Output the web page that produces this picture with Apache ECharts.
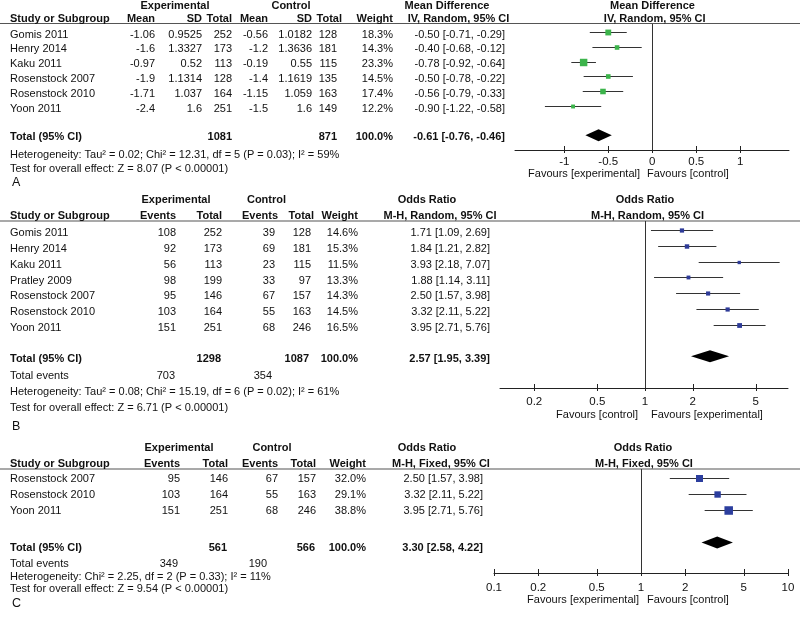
<!DOCTYPE html>
<html><head><meta charset="utf-8">
<script src="https://cdn.jsdelivr.net/npm/echarts@6/dist/echarts.min.js"></script>
<style>html,body{margin:0;padding:0;background:#fff}#c{width:800px;height:619px}</style>
</head><body><div id="c"></div>
<script>
// ---------- Panel A : Mean Difference ----------
const studiesA = ['Gomis 2011','Henry 2014','Kaku 2011','Rosenstock 2007','Rosenstock 2010','Yoon 2011'];
const expMeanA = [-1.06,-1.6,-0.97,-1.9,-1.71,-2.4];
const expSdA = [0.9525,1.3327,0.52,1.1314,1.037,1.6];
const expTotalA = [252,173,113,128,164,251];
const ctlMeanA = [-0.56,-1.2,-0.19,-1.4,-1.15,-1.5];
const ctlSdA = [1.0182,1.3636,0.55,1.1619,1.059,1.6];
const ctlTotalA = [128,181,115,135,163,149];
const weightA = [18.3,14.3,23.3,14.5,17.4,12.2];
const mdA = [-0.50,-0.40,-0.78,-0.50,-0.56,-0.90];
const lowA = [-0.71,-0.68,-0.92,-0.78,-0.79,-1.22];
const highA = [-0.29,-0.12,-0.64,-0.22,-0.33,-0.58];
const totalA = [-0.61,-0.76,-0.46];      // estimate, low, high
const sumA = [1081,871,100.0];           // exp total, ctl total, weight
const hetA = 'Heterogeneity: Tau² = 0.02; Chi² = 12.31, df = 5 (P = 0.03); I² = 59%';
const testA = 'Test for overall effect: Z = 8.07 (P < 0.00001)';
const ticksA = [-1,-0.5,0,0.5,1];

// ---------- Panel B : Odds Ratio (random) ----------
const studiesB = ['Gomis 2011','Henry 2014','Kaku 2011','Pratley 2009','Rosenstock 2007','Rosenstock 2010','Yoon 2011'];
const expEventsB = [108,92,56,98,95,103,151];
const expTotalB = [252,173,113,199,146,164,251];
const ctlEventsB = [39,69,23,33,67,55,68];
const ctlTotalB = [128,181,115,97,157,163,246];
const weightB = [14.6,15.3,11.5,13.3,14.3,14.5,16.5];
const orB = [1.71,1.84,3.93,1.88,2.50,3.32,3.95];
const lowB = [1.09,1.21,2.18,1.14,1.57,2.11,2.71];
const highB = [2.69,2.82,7.07,3.11,3.98,5.22,5.76];
const totalB = [2.57,1.95,3.39];
const sumB = [1298,1087,100.0];
const eventsB = [703,354];
const hetB = 'Heterogeneity: Tau² = 0.08; Chi² = 15.19, df = 6 (P = 0.02); I² = 61%';
const testB = 'Test for overall effect: Z = 6.71 (P < 0.00001)';
const ticksB = [0.2,0.5,1,2,5];

// ---------- Panel C : Odds Ratio (fixed) ----------
const studiesC = ['Rosenstock 2007','Rosenstock 2010','Yoon 2011'];
const expEventsC = [95,103,151];
const expTotalC = [146,164,251];
const ctlEventsC = [67,55,68];
const ctlTotalC = [157,163,246];
const weightC = [32.0,29.1,38.8];
const orC = [2.50,3.32,3.95];
const lowC = [1.57,2.11,2.71];
const highC = [3.98,5.22,5.76];
const totalC = [3.30,2.58,4.22];
const sumC = [561,566,100.0];
const eventsC = [349,190];
const hetC = 'Heterogeneity: Chi² = 2.25, df = 2 (P = 0.33); I² = 11%';
const testC = 'Test for overall effect: Z = 9.54 (P < 0.00001)';
const ticksC = [0.1,0.2,0.5,1,2,5,10];

// ---------- rendering ----------
const FONT = "'Liberation Sans', Arial, Helvetica, sans-serif";
const TXT = '#111';
const G = [];
function txt(x, y, s, align, bold, size) {
  G.push({type:'text', x:x, y:y, silent:true, z:10,
    style:{text:String(s), font:(bold?'bold ':'')+(size||11)+'px '+FONT, fill:TXT,
      align:align||'left', verticalAlign:'middle', textAlign:align||'left', textVerticalAlign:'middle'}});
}
function hline(y, x1, x2) {
  G.push({type:'line', silent:true, shape:{x1:x1, y1:y, x2:x2, y2:y}, style:{stroke:'#555', lineWidth:1.2}});
}
const f2 = v => v.toFixed(2);
const ci = (e,l,h) => f2(e)+' ['+f2(l)+', '+f2(h)+']';
const pct = v => v.toFixed(1)+'%';

// Panel A text
(function(){
  const L = {h1:5.5, h2:18.5, line:23.5, y0:34.7, step:14.76, total:137, het:155, test:169, lab:183, fav:174};
  const cols = [155,202,232,268,312,337,393], ciR = 505;
  const hcols = [155,202,232,268,312,342,393];
  txt(175, L.h1, 'Experimental', 'center', true);
  txt(291, L.h1, 'Control', 'center', true);
  txt(447, L.h1, 'Mean Difference', 'center', true);
  txt(652.5, L.h1, 'Mean Difference', 'center', true);
  txt(10, L.h2, 'Study or Subgroup', 'left', true);
  ['Mean','SD','Total','Mean','SD','Total','Weight'].forEach((h,i)=>txt(hcols[i], L.h2, h, 'right', true));
  txt(458.5, L.h2, 'IV, Random, 95% CI', 'center', true);
  txt(654.7, L.h2, 'IV, Random, 95% CI', 'center', true);
  hline(L.line, 0, 800);
  studiesA.forEach((s,i)=>{
    const y = L.y0 + i*L.step;
    txt(10, y, s);
    [expMeanA[i], expSdA[i], expTotalA[i], ctlMeanA[i], ctlSdA[i], ctlTotalA[i], pct(weightA[i])]
      .forEach((v,j)=>txt(cols[j], y, v, 'right'));
    txt(ciR, y, ci(mdA[i], lowA[i], highA[i]), 'right');
  });
  txt(10, L.total, 'Total (95% CI)', 'left', true);
  txt(cols[2], L.total, sumA[0], 'right', true);
  txt(cols[5], L.total, sumA[1], 'right', true);
  txt(cols[6], L.total, pct(sumA[2]), 'right', true);
  txt(ciR, L.total, ci(totalA[0], totalA[1], totalA[2]), 'right', true);
  txt(10, L.het, hetA);
  txt(10, L.test, testA);
  txt(12, L.lab, 'A', 'left', false, 12.5);
  txt(640, L.fav, 'Favours [experimental]', 'right');
  txt(647, L.fav, 'Favours [control]', 'left');
})();

// Panel B text
(function(){
  const L = {h1:200, h2:215.5, line:221, y0:233.3, step:15.78, total:359, ev:376, het:392, test:407.5, lab:427, fav:415};
  const cols = [176,222,275,311,358], ciR = 490;
  txt(176, L.h1, 'Experimental', 'center', true);
  txt(266.5, L.h1, 'Control', 'center', true);
  txt(427, L.h1, 'Odds Ratio', 'center', true);
  txt(645, L.h1, 'Odds Ratio', 'center', true);
  txt(10, L.h2, 'Study or Subgroup', 'left', true);
  ['Events','Total','Events','Total','Weight'].forEach((h,i)=>txt(cols[i]+(i==2||i==3?3:0), L.h2, h, 'right', true));
  txt(440, L.h2, 'M-H, Random, 95% CI', 'center', true);
  txt(647.5, L.h2, 'M-H, Random, 95% CI', 'center', true);
  hline(L.line, 0, 800);
  studiesB.forEach((s,i)=>{
    const y = L.y0 + i*L.step;
    txt(10, y, s);
    [expEventsB[i], expTotalB[i], ctlEventsB[i], ctlTotalB[i], pct(weightB[i])]
      .forEach((v,j)=>txt(cols[j], y, v, 'right'));
    txt(ciR, y, ci(orB[i], lowB[i], highB[i]), 'right');
  });
  txt(10, L.total, 'Total (95% CI)', 'left', true);
  txt(cols[1]-1, L.total, sumB[0], 'right', true);
  txt(cols[3]-2, L.total, sumB[1], 'right', true);
  txt(cols[4], L.total, pct(sumB[2]), 'right', true);
  txt(ciR, L.total, ci(totalB[0], totalB[1], totalB[2]), 'right', true);
  txt(10, L.ev, 'Total events');
  txt(cols[0]-1, L.ev, eventsB[0], 'right');
  txt(cols[2]-3, L.ev, eventsB[1], 'right');
  txt(10, L.het, hetB);
  txt(10, L.test, testB);
  txt(12, L.lab, 'B', 'left', false, 12.5);
  txt(638, L.fav, 'Favours [control]', 'right');
  txt(651, L.fav, 'Favours [experimental]', 'left');
})();

// Panel C text
(function(){
  const L = {h1:447.5, h2:463.5, line:469, y0:479, step:15.8, total:548, ev:564, het:576.5, test:589, lab:604, fav:600};
  const cols = [180,228,278,316,366], ciR = 483;
  txt(179, L.h1, 'Experimental', 'center', true);
  txt(272, L.h1, 'Control', 'center', true);
  txt(427, L.h1, 'Odds Ratio', 'center', true);
  txt(643, L.h1, 'Odds Ratio', 'center', true);
  txt(10, L.h2, 'Study or Subgroup', 'left', true);
  ['Events','Total','Events','Total','Weight'].forEach((h,i)=>txt(cols[i], L.h2, h, 'right', true));
  txt(441, L.h2, 'M-H, Fixed, 95% CI', 'center', true);
  txt(644, L.h2, 'M-H, Fixed, 95% CI', 'center', true);
  hline(L.line, 0, 800);
  studiesC.forEach((s,i)=>{
    const y = L.y0 + i*L.step;
    txt(10, y, s);
    [expEventsC[i], expTotalC[i], ctlEventsC[i], ctlTotalC[i], pct(weightC[i])]
      .forEach((v,j)=>txt(cols[j], y, v, 'right'));
    txt(ciR, y, ci(orC[i], lowC[i], highC[i]), 'right');
  });
  txt(10, L.total, 'Total (95% CI)', 'left', true);
  txt(cols[1]-1, L.total, sumC[0], 'right', true);
  txt(cols[3]-1, L.total, sumC[1], 'right', true);
  txt(cols[4], L.total, pct(sumC[2]), 'right', true);
  txt(ciR, L.total, ci(totalC[0], totalC[1], totalC[2]), 'right', true);
  txt(10, L.ev, 'Total events');
  txt(cols[0]-2, L.ev, eventsC[0], 'right');
  txt(cols[2]-11, L.ev, eventsC[1], 'right');
  txt(10, L.het, hetC);
  txt(10, L.test, testC);
  txt(12, L.lab, 'C', 'left', false, 12.5);
  txt(639, L.fav, 'Favours [experimental]', 'right');
  txt(647, L.fav, 'Favours [control]', 'left');
})();

// ---------- plot geometry ----------
const lg = v => Math.log10(v);
const panels = [
  {grid:{left:515, top:24, width:274, height:126}, y0:32.3, step:14.7, xmin:-1.56, xmax:1.554, ticks:ticksA, tf:v=>v, nullX:0,
   est:mdA, low:lowA, high:highA, w:weightA, tot:totalA, color:'#3cb44b', k:0.32, margin:6},
  {grid:{left:500, top:221, width:288, height:167}, y0:230, step:15.78, xmin:-0.915, xmax:0.902, ticks:ticksB, tf:lg, nullX:1,
   est:orB, low:lowB, high:highB, w:weightB, tot:totalB, color:'#2e3b98', k:0.29, margin:8},
  {grid:{left:494, top:469, width:294, height:104}, y0:478.4, step:16, xmin:-1, xmax:1, ticks:ticksC, tf:lg, nullX:1,
   est:orC, low:lowC, high:highC, w:weightC, tot:totalC, color:'#2c3e9e', k:0.22, margin:9}
];

const grids = [], xAxes = [], yAxes = [], series = [];
panels.forEach((p, pi) => {
  grids.push(Object.assign({containLabel:false}, p.grid));
  const ymin = (p.grid.top - p.y0)/p.step, ymax = (p.grid.top + p.grid.height - p.y0)/p.step;
  const tv = p.ticks.map(p.tf);
  const fmt = v => { let best = 0; tv.forEach((t,i)=>{ if (Math.abs(t-v) < Math.abs(tv[best]-v)) best = i; }); return String(p.ticks[best]); };
  xAxes.push({type:'value', gridIndex:pi, min:p.xmin, max:p.xmax, position:'bottom', splitLine:{show:false},
    axisLine:{show:true, onZero:false, lineStyle:{color:'#222', width:1}},
    axisTick:{show:false},
    axisLabel:{show:true, customValues:tv, formatter:fmt, margin:p.margin, color:TXT, fontSize:11.5, fontFamily:FONT}});
  yAxes.push({type:'value', gridIndex:pi, min:ymin, max:ymax, inverse:true, show:false});
  const xi = pi, yi = pi;
  // tick marks crossing the axis line
  series.push({type:'custom', xAxisIndex:xi, yAxisIndex:yi, silent:true, data:tv.map(t=>[t, ymax]),
    renderItem:(params, api)=>{
      const c = api.coord([api.value(0), api.value(1)]);
      const x = Math.round(c[0]) + 0.5;
      return {type:'line', shape:{x1:x, y1:c[1]-4, x2:x, y2:c[1]+3}, style:{stroke:'#222', lineWidth:1}};
    }});
  // null line
  series.push({type:'custom', xAxisIndex:xi, yAxisIndex:yi, silent:true, data:[[p.tf(p.nullX), ymin, ymax]],
    renderItem:(params, api)=>{
      const a = api.coord([api.value(0), api.value(1)]), b = api.coord([api.value(0), api.value(2)]);
      const x = Math.round(a[0]) + 0.5;
      return {type:'line', shape:{x1:x, y1:a[1], x2:x, y2:b[1]}, style:{stroke:'#333', lineWidth:1}};
    }});
  // studies
  const rows = p.est.map((e,i)=>[p.tf(p.low[i]), p.tf(p.high[i]), p.tf(e), i, p.w[i]]);
  series.push({type:'custom', xAxisIndex:xi, yAxisIndex:yi, silent:true, data:rows,
    renderItem:(params, api)=>{
      const lo = api.coord([api.value(0), api.value(3)]), hi = api.coord([api.value(1), api.value(3)]);
      const c = api.coord([api.value(2), api.value(3)]);
      const s = p.k * api.value(4);
      const yy = Math.round(c[1]) + 0.5;
      return {type:'group', children:[
        {type:'line', shape:{x1:lo[0], y1:yy, x2:hi[0], y2:yy}, style:{stroke:'#333', lineWidth:1}},
        {type:'rect', shape:{x:c[0]-s/2, y:yy-s/2, width:s, height:s}, style:{fill:p.color}}
      ]};
    }});
  // pooled diamond
  series.push({type:'custom', xAxisIndex:xi, yAxisIndex:yi, silent:true,
    data:[[p.tf(p.tot[1]), p.tf(p.tot[2]), p.tf(p.tot[0]), p.est.length + 1]],
    renderItem:(params, api)=>{
      const l = api.coord([api.value(0), api.value(3)]), r = api.coord([api.value(1), api.value(3)]);
      const c = api.coord([api.value(2), api.value(3)]);
      const h = 6;
      return {type:'polygon', shape:{points:[[l[0],c[1]],[c[0],c[1]-h],[r[0],c[1]],[c[0],c[1]+h]]}, style:{fill:'#000'}};
    }});
});

const chart = echarts.init(document.getElementById('c'), null, {renderer:'canvas'});
chart.setOption({
  animation:false,
  backgroundColor:'#fff',
  grid:grids, xAxis:xAxes, yAxis:yAxes, series:series,
  graphic:{elements:G}
});
</script></body></html>
